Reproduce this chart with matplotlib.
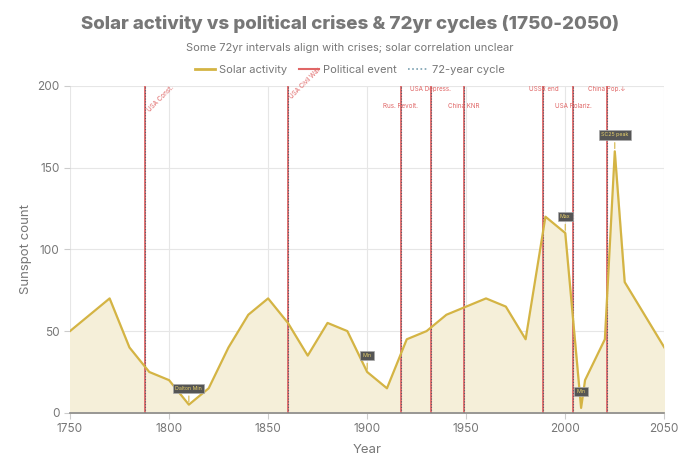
import matplotlib
matplotlib.use("Agg")
from matplotlib import pyplot as plt
from matplotlib.lines import Line2D

plt.rcParams['font.family'] = ['Inter', 'DejaVu Sans']

# solar activity (sunspot count)
years = [1750, 1770, 1780, 1790, 1800, 1810, 1820, 1830, 1840, 1850, 1860,
         1870, 1880, 1890, 1900, 1910, 1920, 1930, 1940, 1950, 1960, 1970,
         1980, 1990, 2000, 2008, 2010, 2020, 2025, 2030, 2050]
sunspots = [50, 70, 40, 25, 20, 5, 15, 40, 60, 70, 55,
            35, 55, 50, 25, 15, 45, 50, 60, 65, 70, 65,
            45, 120, 110, 3, 20, 45, 160, 80, 40]

# political events
event_years = [1788, 1860, 1917, 1932, 1949, 1989, 2004, 2021]
event_labels = ['USA Const.', 'USA Civil War', 'Rus. Revolt.', 'USA Depress.',
                'China KNR', 'USSR end', 'USA Polariz.', 'China Pop.\u2193']

# 72-year cycle markers
cycle_years = [1788, 1860, 1917, 1932, 1949, 1989, 2004, 2021]

# annotations
note_years = [1810, 1900, 2000, 2008, 2025]
note_vals = [5, 25, 110, 3, 160]
note_texts = ['Dalton Min', 'Min', 'Max', 'Min', 'SC25 peak']
note_offsets = [10, 10, 10, 10, 10]

gold = '#d4b444'
red = '#e06666'
grey = '#777777'

fig, ax = plt.subplots(figsize=(7, 4.67), dpi=100)
fig.subplots_adjust(left=0.1, right=0.949, top=0.816, bottom=0.116)

ax.fill_between(years, sunspots, 0, color='#f5efd9', zorder=1)
ax.plot(years, sunspots, color=gold, lw=1.6, zorder=3)

for i, yr in enumerate(event_years):
    ax.axvline(yr, color=red, lw=1.3, zorder=2)
for yr in cycle_years:
    ax.axvline(yr, color='#5a5a6a', lw=0.8, ls=(0, (1, 1.5)), zorder=2)

# event labels
for i, yr in enumerate(event_years):
    if i < 2:
        y0 = 185 if i == 0 else 193
        t = ax.text(yr + 1.5, y0, event_labels[i], rotation=45, color=red,
                    fontsize=4.5, ha='left', va='center',
                    rotation_mode='anchor', zorder=4)
        t.set_clip_path(ax.patch)
    else:
        yy = 198 if i % 2 == 1 else 188
        ax.text(yr, yy, event_labels[i], color=red, fontsize=4.5,
                ha='center', va='center', zorder=4)

for i in range(len(note_years)):
    x = note_years[i]
    y = note_vals[i]
    ax.annotate(note_texts[i], xy=(x, y), xytext=(x, y + note_offsets[i]),
                fontsize=3.8, color='#e6cf6a', ha='center', va='center',
                bbox=dict(boxstyle='square,pad=0.4', fc='#555555', ec='#aaaaaa', lw=0.5),
                arrowprops=dict(arrowstyle='-', color=gold, lw=0.8), zorder=5)

ax.set_xlim(1750, 2050)
ax.set_ylim(0, 200)
ax.set_xticks([1750, 1800, 1850, 1900, 1950, 2000, 2050])
ax.set_yticks([0, 50, 100, 150, 200])
ax.grid(True, color='#e6e6e6', lw=0.8, zorder=0)
ax.set_axisbelow(True)
for s in ['top', 'right', 'left']:
    ax.spines[s].set_visible(False)
ax.spines['bottom'].set_color('#888888')
ax.spines['bottom'].set_linewidth(1.2)
ax.tick_params(colors='#cccccc', labelcolor=grey, labelsize=8.5, length=4)
ax.set_xlabel('Year', color=grey, fontsize=9.5, labelpad=6)
ax.set_ylabel('Sunspot count', color=grey, fontsize=9.5, labelpad=4)

fig.text(0.5, 0.948, 'Solar activity vs political crises & 72yr cycles (1750-2050)',
         ha='center', va='center', fontsize=13.5, fontweight='heavy', color=grey)
fig.text(0.5, 0.898, 'Some 72yr intervals align with crises; solar correlation unclear',
         ha='center', va='center', fontsize=8, color=grey)

handles = [Line2D([], [], color=gold, lw=2),
           Line2D([], [], color=red, lw=1.5),
           Line2D([], [], color='#7aa0b0', lw=1.2, ls=(0, (1, 1.5)))]
fig.legend(handles, ['Solar activity', 'Political event', '72-year cycle'],
           loc='center', bbox_to_anchor=(0.5, 0.85), ncol=3, frameon=False,
           fontsize=8, labelcolor=grey, handlelength=1.8, columnspacing=1.0,
           handletextpad=0.4)

plt.savefig('out.png', dpi=100)
